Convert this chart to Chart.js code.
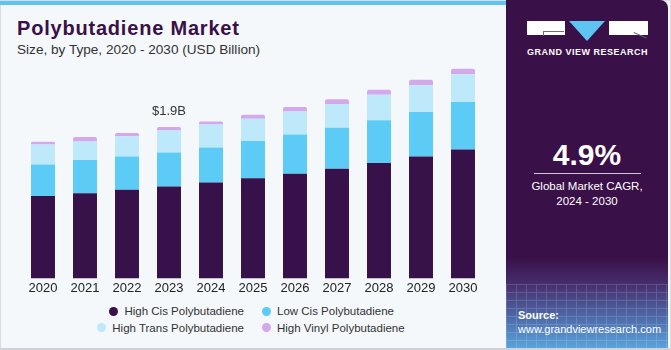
<!DOCTYPE html>
<html>
<head>
<meta charset="utf-8">
<script src="https://cdn.jsdelivr.net/npm/chart.js@4.4.1/dist/chart.umd.min.js"></script>
<style>
  body { margin: 0; }
  #wrap { position: relative; width: 671px; height: 350px; background: #f4f8fb; overflow: hidden;
          font-family: "Liberation Sans", Arial, sans-serif; }
  #frame { position: absolute; left: 0; top: 0; right: 0; bottom: 0; border: 1px solid #d9dde2; border-bottom: 2px solid #cfd3d8; box-sizing: border-box; }
  #stripe { position: absolute; left: 0; top: 1px; width: 506px; height: 4px; background: #5ec5f2; }
  #title { position: absolute; left: 17px; top: 18px; font-size: 20px; line-height: 20px; font-weight: bold;
           color: #3a1048; letter-spacing: 0.8px; white-space: nowrap; }
  #subtitle { position: absolute; left: 17px; top: 43px; font-size: 13.6px; line-height: 13px; color: #333;
              white-space: nowrap; }
  #chartBox { position: absolute; left: 0; top: 60px; width: 500px; height: 240px; }
  #legend { position: absolute; left: 0; top: 303px; width: 500px; display: grid;
            grid-template-columns: 244px auto; column-gap: 18px; row-gap: 0; }
  .item { display: flex; align-items: center; height: 16.6px; font-size: 11.5px; color: #333; white-space: nowrap; }
  .item:nth-child(odd) { justify-self: end; }
  .dot { width: 9px; height: 9px; border-radius: 50%; margin-right: 6px; }
  #panel { position: absolute; left: 506px; top: 0; width: 162px; height: 348px; border-top-right-radius: 8px;
           overflow: hidden; color: #fff;
           background: linear-gradient(to bottom, #3a1048 0%, #3a1048 74%, #46306f 82%, #4f6fae 92%, #5aa3da 100%); }
  #mesh { position: absolute; left: 0; top: 284px; width: 162px; height: 64px; opacity: 0.16;
          background-image:
            repeating-linear-gradient(to right, rgba(255,255,255,0.9) 0 1px, transparent 1px 10px),
            repeating-linear-gradient(to bottom, rgba(255,255,255,0.9) 0 1px, transparent 1px 8px); }
  .abs { position: absolute; }
  #big { left: 0; width: 162px; top: 140px; text-align: center; font-size: 30px; line-height: 30px; font-weight: bold; }
  #rule { left: 28px; top: 173px; width: 107px; height: 1px; background: #cfc6d6; }
  #cagr { left: 0; width: 162px; top: 179px; text-align: center; font-size: 11.5px; line-height: 15px; }
  #src { left: 12px; top: 308px; font-size: 11px; line-height: 14px; }
  #gvr { left: 21px; top: 47px; font-size: 9px; line-height: 10px; font-weight: bold; letter-spacing: 0.5px; white-space: nowrap; }
</style>
</head>
<body>
<div id="wrap">
  <div id="frame"></div>
  <div id="stripe"></div>
  <div id="title">Polybutadiene Market</div>
  <div id="subtitle">Size, by Type, 2020 - 2030 (USD Billion)</div>
  <div id="chartBox"><canvas id="marketChart" width="500" height="240"></canvas></div>
  <div id="legend"></div>
  <div id="panel">
    <!-- logo -->
    <div class="abs" style="left:21px;top:21px;width:38px;height:14px;background:#fff;"></div>
    <div class="abs" style="left:37px;top:31px;width:20px;height:4px;border-top:1px solid #6d6d78;border-left:1px solid #6d6d78;"></div>
    <div class="abs" style="left:63px;top:21px;width:0;height:0;border-left:18.5px solid transparent;border-right:18.5px solid transparent;border-top:20px solid #5ec5f2;"></div>
    <div class="abs" style="left:103px;top:21px;width:39px;height:14px;background:#fff;"></div>
    <div class="abs" style="left:128px;top:31.5px;width:14px;height:1px;background:#6d6d78;transform:rotate(24deg);transform-origin:0 0;"></div>
    <div id="gvr" class="abs">GRAND VIEW RESEARCH</div>
    <div id="big" class="abs">4.9%</div>
    <div id="rule" class="abs"></div>
    <div id="cagr" class="abs">Global Market CAGR,<br>2024 - 2030</div>
    <div id="mesh"></div>
    <div id="src" class="abs"><b>Source:</b><br>www.grandviewresearch.com</div>
  </div>
</div>

<script>
// données (USD Billion)
const years = ['2020', '2021', '2022', '2023', '2024', '2025', '2026', '2027', '2028', '2029', '2030'];
const highCis   = [1.035, 1.069, 1.111, 1.152, 1.203, 1.258, 1.312, 1.375, 1.447, 1.530, 1.618];
const lowCis    = [0.394, 0.415, 0.419, 0.428, 0.440, 0.465, 0.494, 0.516, 0.536, 0.559, 0.596];
const highTrans = [0.252, 0.234, 0.252, 0.277, 0.289, 0.281, 0.289, 0.298, 0.320, 0.335, 0.347];
const highVinyl = [0.034, 0.055, 0.043, 0.043, 0.038, 0.050, 0.055, 0.058, 0.063, 0.068, 0.068];

const seriesNames = ['High Cis Polybutadiene', 'Low Cis Polybutadiene', 'High Trans Polybutadiene', 'High Vinyl Polybutadiene'];
const seriesValues = [highCis, lowCis, highTrans, highVinyl];
const seriesColors = ['#371149', '#5ccbf5', '#bde9fa', '#d3a9ec'];

const calloutYear = '2023';
const calloutText = '$1.9B';
const yMax = 2.74;

// légende HTML
const legendBox = document.getElementById('legend');
seriesNames.forEach((name, i) => {
  const item = document.createElement('div');
  item.className = 'item';
  const dot = document.createElement('span');
  dot.className = 'dot';
  dot.style.background = seriesColors[i];
  item.appendChild(dot);
  item.appendChild(document.createTextNode(name));
  legendBox.appendChild(item);
});

// étiquette au-dessus de la barre 2023
const calloutPlugin = {
  id: 'callout',
  afterDatasetsDraw(chart) {
    const idx = years.indexOf(calloutYear);
    const meta = chart.getDatasetMeta(chart.data.datasets.length - 1);
    const bar = meta.data[idx];
    if (!bar) return;
    const ctx = chart.ctx;
    ctx.save();
    ctx.font = '13px "Liberation Sans", Arial, sans-serif';
    ctx.fillStyle = '#333';
    ctx.textAlign = 'center';
    ctx.textBaseline = 'bottom';
    ctx.fillText(calloutText, bar.x, bar.y - 9);
    ctx.restore();
  }
};

const datasets = seriesNames.map((name, i) => ({
  label: name,
  data: seriesValues[i],
  backgroundColor: seriesColors[i],
  borderWidth: 0,
  borderRadius: i === seriesNames.length - 1 ? { topLeft: 2, topRight: 2 } : 0,
  borderSkipped: false,
  categoryPercentage: 1,
  barPercentage: 0.571
}));

const ctx = document.getElementById('marketChart').getContext('2d');
new Chart(ctx, {
  type: 'bar',
  data: { labels: years, datasets: datasets },
  options: {
    responsive: false,
    devicePixelRatio: 1,
    animation: false,
    layout: { padding: { left: 22, right: 16, top: 0, bottom: 2 } },
    plugins: { legend: { display: false }, tooltip: { enabled: false } },
    scales: {
      x: {
        stacked: true,
        grid: { display: false, drawTicks: false },
        border: { display: false },
        ticks: { color: '#222', padding: 2, font: { size: 13, family: '"Liberation Sans", Arial, sans-serif' } }
      },
      y: { stacked: true, display: false, min: 0, max: yMax }
    }
  },
  plugins: [calloutPlugin]
});
</script>
</body>
</html>
